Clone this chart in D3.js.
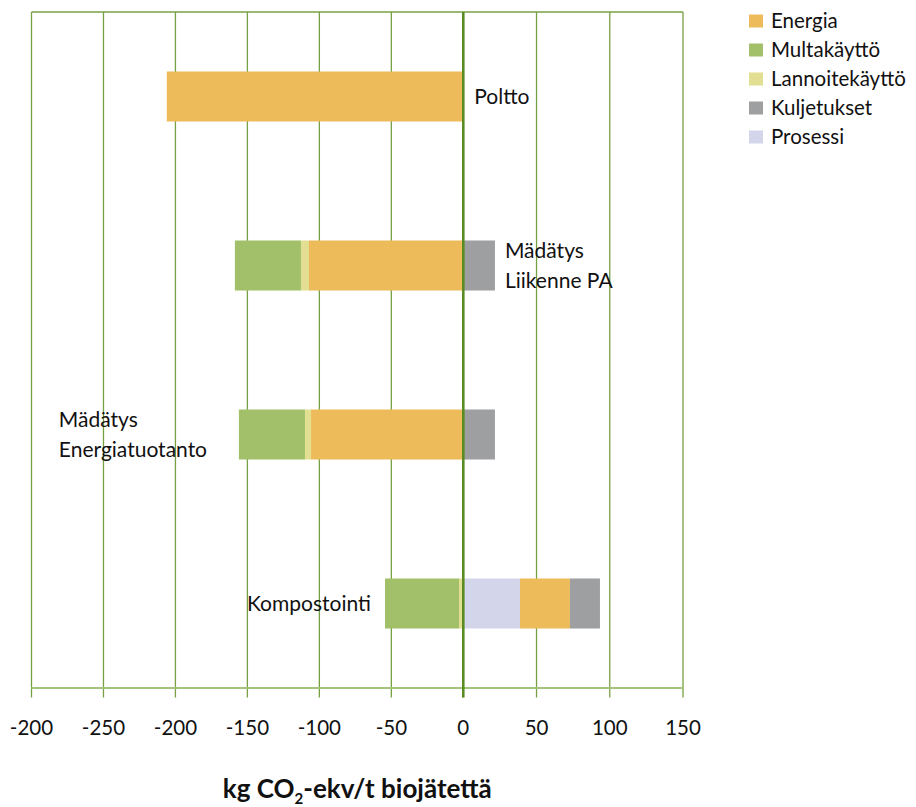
<!DOCTYPE html>
<html>
<head>
<meta charset="utf-8">
<script src="https://cdn.jsdelivr.net/npm/d3@7"></script>
<style>
  html, body { margin: 0; padding: 0; background: #fff; }
  svg { display: block; font-family: Lato, "Open Sans", sans-serif; }
</style>
</head>
<body>
<svg id="chart" width="916" height="807"></svg>
<script>
// Categories, top to bottom
const categories = ["Poltto", "Mädätys Liikenne PA", "Mädätys Energiatuotanto", "Kompostointi"];

// Emission components, kg CO2-ekv per tonne of biowaste
const energia      = [-206, -107.2, -105.8, 34.1];
const multakaytto  = [0, -45.9, -45.9, -51.4];
const lannoite     = [0, -5.6, -4.2, -3];
const kuljetukset  = [0, 21.6, 21.6, 20.5];
const prosessi     = [0, 0, 0, 38.7];

const seriesNames  = ["Energia", "Multakäyttö", "Lannoitekäyttö", "Kuljetukset", "Prosessi"];
const seriesValues = [energia, multakaytto, lannoite, kuljetukset, prosessi];
const seriesColors = ["#EEBB5A", "#A2C06A", "#E2DF92", "#9E9FA1", "#D3D6EA"];

// Stacking order outward from zero
const stackOrder = ["Prosessi", "Energia", "Lannoitekäyttö", "Multakäyttö", "Kuljetukset"];

// Axis ticks and the labels printed under them
const tickValues = [-300, -250, -200, -150, -100, -50, 0, 50, 100, 150];
const tickLabels = ["-200", "-250", "-200", "-150", "-100", "-50", "0", "50", "100", "150"];

const svg = d3.select("#chart");
const plotLeft = 31.5, plotRight = 683, plotTop = 12, plotBottom = 688, zeroX = 463.3;

const x = d3.scaleLinear().domain([-300, 0, 150]).range([plotLeft, zeroX, plotRight]);
const y = d3.scaleBand().domain(categories).range([plotTop, plotBottom]).paddingInner(0.704).paddingOuter(0.352);

const gridColor = "#77A043";

// Top border
svg.append("line")
  .attr("x1", plotLeft).attr("x2", plotRight).attr("y1", plotTop).attr("y2", plotTop)
  .attr("stroke", gridColor).attr("stroke-width", 1.3);

// Vertical gridlines (continuing below the axis as tick marks)
svg.append("g").selectAll("line").data(tickValues).join("line")
  .attr("x1", d => x(d)).attr("x2", d => x(d))
  .attr("y1", plotTop).attr("y2", plotBottom + 9.5)
  .attr("stroke", gridColor).attr("stroke-width", 1.3);

// Rows of stacked data
const rows = categories.map((c, i) => {
  const r = { category: c };
  seriesNames.forEach((s, j) => r[s] = seriesValues[j][i]);
  return r;
});

const stack = d3.stack().keys(stackOrder).offset(d3.stackOffsetDiverging);
const stacked = stack(rows);
const colorOf = d3.scaleOrdinal().domain(seriesNames).range(seriesColors);

svg.append("g").selectAll("g").data(stacked).join("g")
  .attr("fill", d => colorOf(d.key))
  .selectAll("rect").data(d => d).join("rect")
  .attr("x", d => x(Math.min(d[0], d[1])))
  .attr("width", d => Math.abs(x(d[1]) - x(d[0])))
  .attr("y", d => y(d.data.category))
  .attr("height", y.bandwidth());

// Bottom axis line
svg.append("line")
  .attr("x1", plotLeft).attr("x2", plotRight).attr("y1", plotBottom).attr("y2", plotBottom)
  .attr("stroke", "#A3C27B").attr("stroke-width", 2);

// Zero line drawn over the bars
svg.append("line")
  .attr("x1", x(0)).attr("x2", x(0)).attr("y1", plotTop).attr("y2", plotBottom + 9.5)
  .attr("stroke", "#5A8C23").attr("stroke-width", 2.6);

// Tick labels
svg.append("g").selectAll("text").data(tickValues).join("text")
  .attr("x", d => x(d)).attr("y", 735)
  .attr("text-anchor", "middle")
  .attr("font-size", 20.5).attr("fill", "#111")
  .text((d, i) => tickLabels[i]);

// Axis title with subscript
const title = svg.append("text")
  .attr("x", (plotLeft + plotRight) / 2).attr("y", 798)
  .attr("text-anchor", "middle")
  .attr("font-size", 26).attr("font-weight", "bold").attr("fill", "#111");
title.append("tspan").text("kg CO");
title.append("tspan").attr("font-size", 15).attr("dy", 6).text("2");
title.append("tspan").attr("dy", -6).text("-ekv/t biojätettä");

// Category labels next to the bars
const totals = rows.map(r => {
  let neg = 0, pos = 0;
  stackOrder.forEach(k => { if (r[k] < 0) neg += r[k]; else pos += r[k]; });
  return { neg, pos };
});
const labelFont = 21;
function label(lines, xPos, cy, anchor) {
  const t = svg.append("text").attr("font-size", labelFont).attr("fill", "#111")
    .attr("text-anchor", anchor);
  const n = lines.length, lh = 30;
  lines.forEach((ln, k) => {
    t.append("tspan").attr("x", xPos)
      .attr("y", cy + (k - (n - 1) / 2) * lh + 7)
      .text(ln);
  });
}
const centerY = c => y(c) + y.bandwidth() / 2;
label(["Poltto"], x(0) + 11, centerY(categories[0]), "start");
label(["Mädätys", "Liikenne PA"], x(totals[1].pos) + 10, centerY(categories[1]), "start");
label(["Mädätys", "Energiatuotanto"], x(-281), centerY(categories[2]), "start");
label(["Kompostointi"], x(totals[3].neg) - 14, centerY(categories[3]), "end");

// Legend
const legend = svg.append("g").selectAll("g").data(seriesNames).join("g")
  .attr("transform", (d, i) => `translate(749, ${21 + i * 29})`);
legend.append("rect")
  .attr("x", 0).attr("y", -6.5).attr("width", 14).attr("height", 13)
  .attr("fill", d => colorOf(d));
legend.append("text")
  .attr("x", 22).attr("y", 7)
  .attr("font-size", 20.5).attr("fill", "#111")
  .text(d => d);
</script>
</body>
</html>
